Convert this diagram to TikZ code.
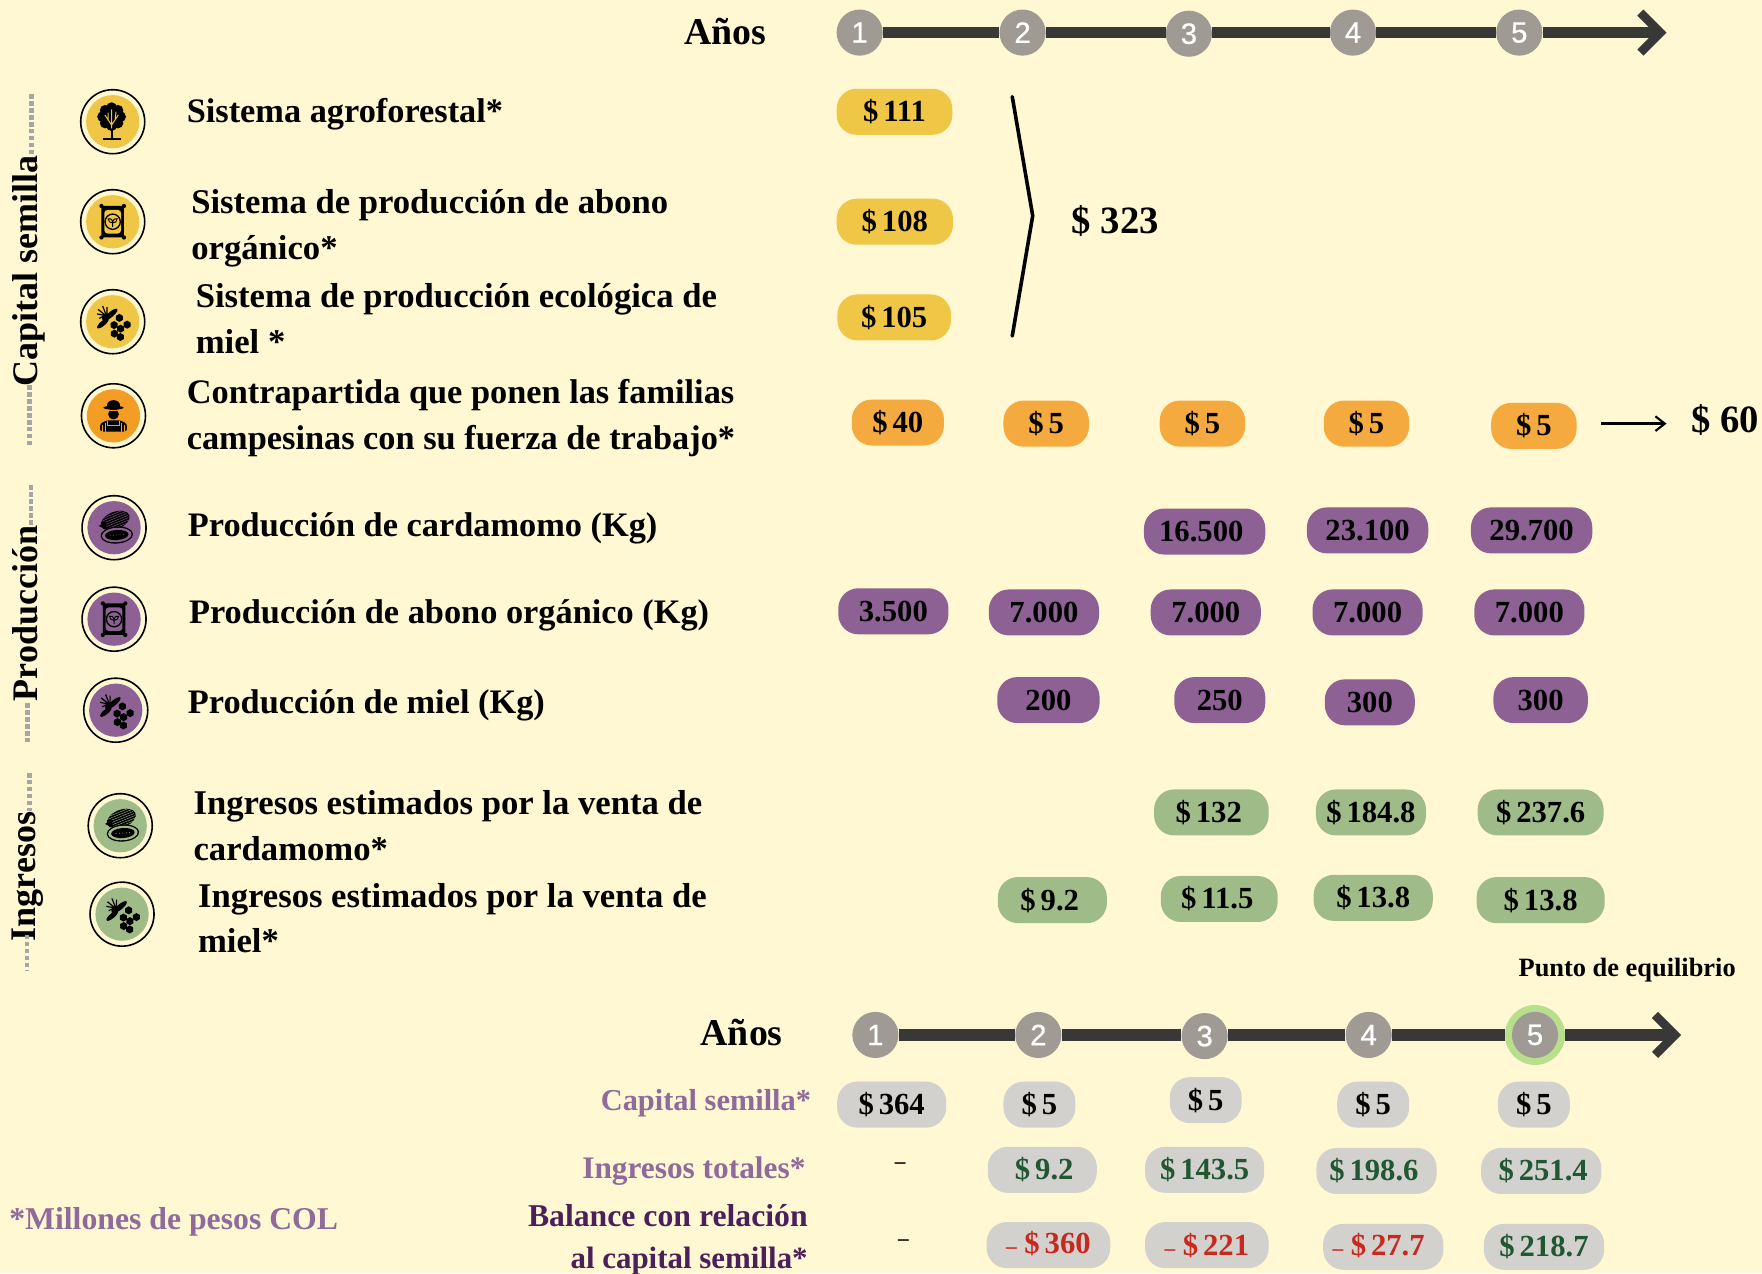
\documentclass[tikz,border=0pt]{standalone}
\usepackage{fontspec}
\setmainfont{Liberation Serif}
\setsansfont{Liberation Sans}
\newfontfamily\digfont[FakeBold=0.7]{Liberation Sans}
\usetikzlibrary{arrows.meta}
\definecolor{bgc}{HTML}{FFF8D3}
\definecolor{yel}{HTML}{F0C647}
\definecolor{ora}{HTML}{F49D25}
\definecolor{orp}{HTML}{F4AA3E}
\definecolor{pur}{HTML}{8E6194}
\definecolor{gre}{HTML}{9FBB87}
\definecolor{gry}{HTML}{D3D1CD}
\definecolor{cir}{HTML}{A09A95}
\definecolor{axc}{HTML}{383838}
\definecolor{rin}{HTML}{B8DF8B}
\definecolor{gtx}{HTML}{215732}
\definecolor{rtx}{HTML}{C8281E}
\definecolor{ptx}{HTML}{8F6A9B}
\definecolor{dpt}{HTML}{4B1F5A}
\definecolor{dot}{HTML}{A8A5A6}
\def\fs#1#2{\fontsize{#1}{#2}\selectfont\bfseries}
\newcommand\D{\$\kern.16em}
\newcommand\smd{{\fontsize{16}{16}\selectfont –}}
\tikzset{
  x=0.8428pt,y=-0.8428pt,
  pillbox/.style={inner sep=0pt,minimum height=34.5pt,rounded corners=15pt,font=\fs{23}{27},text=black},
  rowtext/.style={anchor=west,align=left,inner sep=0pt,font=\fs{26}{34.4},text=black},
  rowtextb/.style={rowtext,font=\fs{25.75}{34.4}},
  secttext/.style={rotate=90,inner sep=0pt,font=\fs{27}{30},text=black},
  yeartext/.style={inner sep=0pt,font=\fs{28.4}{32},text=black},
  botlabel/.style={anchor=east,align=right,inner sep=0pt,font=\fs{22.8}{31},text=ptx},
  stepcirc/.style={circle,fill=cir,minimum size=34.6pt,inner sep=0pt,text=white,font=\digfont\fontsize{22}{24}\selectfont},
  axisline/.style={draw=axc,line width=8.6pt},
  dotline/.style={draw=dot,line width=3.7pt,dash pattern=on 3.3pt off 1.9pt},
  ringc/.style={circle,draw=black,line width=1.2pt,minimum size=48pt,inner sep=0pt},
  chevron/.style={-{Straight Barb[length=15pt,width=30pt,line width=6.5pt]}},
}
\newcommand\pill[6]{\node[pillbox,fill=#1,minimum width=#5*0.8428pt] (#2) at (#3,#4) {#6};}
\newcommand\hexc[2]{\fill[black] (#1,#2) ++(30:3.6) -- ++(150:3.6) -- ++(210:3.6) -- ++(270:3.6) -- ++(330:3.6) -- ++(30:3.6) -- cycle;}
\newcommand\BeeIcon[1]{%
  \hexc{5.9}{-3.4}\hexc{12.8}{2.6}\hexc{1.2}{3}\hexc{7}{6.2}\hexc{1.5}{10.6}\hexc{6.8}{13.6}
  \begin{scope}[shift={(-4.7,-3.9)},rotate=40]
    \fill[black] (4,0) ellipse [x radius=7.5,y radius=2.4];
    \fill[black] (-6.5,1.5) ellipse [x radius=6.5,y radius=2.2];
    \fill[black] (-1,-1) ellipse [x radius=4,y radius=2.6];
  \end{scope}
  \draw[black,line width=0.9pt] (-13,-11) -- (-3,-3) (-9,-14) -- (-5,-4) (-14,-7) -- (-4,-5) (-5,-13) -- (-5,-5) (-12,-3) -- (-6,-6);
}
\newcommand\BagIcon[1]{%
  \fill[black,rounded corners=2pt] (-10,-14) rectangle (10,14);
  \fill[black] (-10,-14) circle[radius=1.9] (10,-14) circle[radius=1.9] (-10,14) circle[radius=1.9] (10,14) circle[radius=1.9];
  \fill[#1,rounded corners=2.5pt] (-7.5,-10.5) rectangle (7.5,10.5);
  \draw[black,line width=1pt,fill=#1] (0,0) circle[radius=6.8];
  \draw[black,line width=0.7pt] (0,4.5) -- (0,0) .. controls (-1,-3) and (-3,-3) .. (-4,-2.5) .. controls (-4,0) and (-2,1) .. (0,1) .. controls (2,1) and (4,0) .. (4,-2.5) .. controls (3,-3) and (1,-3) .. (0,0);
}
\newcommand\CacaoIcon[1]{%
  \begin{scope}[shift={(1,-6.3)},rotate=22]
    \fill[black] (0,0) ellipse [x radius=13.5,y radius=7.8];
    \foreach \k in {-6,-4,...,6}{\draw[#1,line width=0.3pt] (-12,\k) -- (12,\k);}
  \end{scope}
  \fill[black] (-13.5,-1.5) -- (-8,-6) -- (-6,2) -- cycle;
  \begin{scope}[shift={(2.4,6.5)},rotate=4]
    \fill[black] (0,0) ellipse [x radius=14.5,y radius=7.6];
    \fill[#1] (0,0) ellipse [x radius=13.2,y radius=6.4];
    \fill[black] (0,0) ellipse [x radius=10.5,y radius=4.5];
    \foreach \k in {-6,-3,...,6}{\fill[#1] (\k,0) circle[radius=0.45];}
  \end{scope}
}
\newcommand\TreeIcon[1]{%
  \fill[black] (-1,-4.5) circle[radius=9.5];
  \foreach \a in {0,45,...,315}{\fill[black] (-1,-4.5) ++(\a:8) circle[radius=4.8];}
  \draw[black,line width=1.6pt] (-1,-2) -- (-1,15);
  \draw[black,line width=1.2pt] (-8.5,15.6) -- (7,15.6);
  \draw[#1,line width=0.7pt] (-1,6) -- (-1,-3) (-1,3) -- (-7,-6) (-1,3) -- (5,-6) (-4,-1) -- (-4,-8) (2,-1) -- (3,-9) (-1,-3) -- (-1,-11);
}
\newcommand\FarmerIcon[1]{%
  \fill[black] (0,-9.3) ellipse [x radius=5.8,y radius=4.6];
  \fill[black] (0,-7.2) ellipse [x radius=9,y radius=1.7];
  \fill[black] (0,-1.5) ellipse [x radius=4.8,y radius=4.8];
  \fill[#1] (-5,-5) rectangle (5,-4.2);
  \fill[black,rounded corners=2pt] (-12,14) -- (-12,7) -- (-6,4) -- (6,4) -- (12,7) -- (12,14) -- cycle;
  \draw[#1,line width=0.7pt] (-7,14) -- (-7,6) (-9.5,14) -- (-9.5,8) (7,14) -- (7,6) (9.5,14) -- (9.5,8);
  \draw[#1,line width=0.7pt] (-5,4.5) -- (-5,9) -- (5,9) -- (5,4.5);
}
\newcommand\icon[6]{%
  \node[ringc] (#1) at (#2,#3) {};
  \fill[#4] (#1.center) circle[radius=23.7];
  \begin{scope}[shift={(#2,#3)}]#5{#6}\end{scope}
}
\begin{document}
\begin{tikzpicture}
\fill[bgc] (0,0) rectangle (1568,1133);
\useasboundingbox (0,0) rectangle (1568,1133);

% top axis
\node[yeartext] (yearsA) at (645.5,28) {Años};
\node[stepcirc] (a1) at (765,29) {1};
\node[stepcirc] (a2) at (910,29) {2};
\node[stepcirc] (a3) at (1058,30) {3};
\node[stepcirc] (a4) at (1204,29) {4};
\node[stepcirc] (a5) at (1352,29) {5};
\coordinate (a6) at (1483,29);
\draw[axisline] (a1) -- (a2);
\draw[axisline] (a2.east) -- (a3.west |- a2.east);
\draw[axisline] (a3.east |- a4.west) -- (a4.west);
\draw[axisline] (a4) -- (a5);
\draw[axisline,chevron] (a5) -- (a6);

% section labels
\node[secttext] (secA) at (26,241) {Capital semilla};
\coordinate (secA1) at (28,84); \coordinate (secA2) at (28,137);
\coordinate (secA3) at (26,343); \coordinate (secA4) at (26,396);
\draw[dotline] (secA1) -- (secA2);
\draw[dotline] (secA3) -- (secA4);
\node[secttext] (secB) at (22.5,546) {Producción};
\coordinate (secB1) at (27.6,432); \coordinate (secB2) at (27.6,469);
\coordinate (secB3) at (24.3,626); \coordinate (secB4) at (24.3,660);
\draw[dotline] (secB1) -- (secB2);
\draw[dotline] (secB3) -- (secB4);
\node[secttext] (secC) at (25,780) {Ingresos};
\coordinate (secC1) at (26,688); \coordinate (secC2) at (26,722);
\coordinate (secC3) at (24,832); \coordinate (secC4) at (24,863);
\draw[dotline] (secC1) -- (secC2);
\draw[dotline] (secC3) -- (secC4);

% icons
\icon{iTree}{100.3}{108.3}{yel}{\TreeIcon}{yel}
\icon{iBag}{100.3}{197.3}{yel}{\BagIcon}{yel}
\icon{iBee}{100.3}{286.3}{yel}{\BeeIcon}{yel}
\icon{iFarm}{101}{370}{ora}{\FarmerIcon}{ora}
\icon{iCac}{101.5}{469.6}{pur}{\CacaoIcon}{pur}
\icon{iBagP}{101.5}{551}{pur}{\BagIcon}{pur}
\icon{iBeeP}{103}{632}{pur}{\BeeIcon}{pur}
\icon{iCacG}{107}{734.8}{gre}{\CacaoIcon}{gre}
\icon{iBeeG}{108.6}{813.5}{gre}{\BeeIcon}{gre}

% row labels
\node[rowtextb] (t1) at (166,102) {Sistema agroforestal*};
\node[rowtext] (t2) at (170,203.5) {Sistema de producción de abono\\orgánico*};
\node[rowtext] (t3) at (174,283.5) {Sistema de producción ecológica de\\miel *};
\node[rowtextb] (t4) at (166,372) {Contrapartida que ponen las familias\\campesinas con su fuerza de trabajo*};
\node[rowtextb] (t5) at (167,470.5) {Producción de cardamomo (Kg)};
\node[rowtextb] (t6) at (168,548) {Producción de abono orgánico (Kg)};
\node[rowtextb] (t7) at (167,627.5) {Producción de miel (Kg)};
\node[rowtext] (t8) at (172,735) {Ingresos estimados por la venta de\\cardamomo*};
\node[rowtext] (t9) at (176,817) {Ingresos estimados por la venta de\\miel*};

% capital pills
\pill{yel}{y1}{796}{99.5}{103}{\D 111}
\pill{yel}{y2}{796.3}{197.3}{103.5}{\D 108}
\pill{yel}{y3}{795.7}{282.5}{101}{\D 105}
\coordinate (b1) at (900.8,86);
\coordinate (b2) at (919,192);
\coordinate (b3) at (900.8,299);
\draw[black,line width=2.7pt,line cap=round] (b1) -- (b2) -- (b3);
\node[inner sep=0pt,font=\fs{29}{32},text=black] (sum1) at (992.5,197) {\$ 323};

\pill{orp}{o1}{799}{376}{82}{\raisebox{1.5pt}{\D 40}}
\pill{orp}{o2}{931}{377}{76}{\D 5}
\pill{orp}{o3}{1070}{377}{76}{\D 5}
\pill{orp}{o4}{1216}{377}{76}{\D 5}
\pill{orp}{o5}{1365}{379}{76}{\D 5}
\coordinate (c1) at (1425,377);
\coordinate (c2) at (1483,377);
\draw[black,line width=1.8pt,-{Straight Barb[length=7pt,width=11pt,line width=1.6pt]}] (c1) -- (c2);
\node[inner sep=0pt,font=\fs{29}{32},text=black] (sum2) at (1535,374) {\$ 60};

% production
\pill{pur}{p1}{1072}{473}{108}{\kern-5pt 16.500}
\pill{pur}{p2}{1217}{472}{108}{23.100}
\pill{pur}{p3}{1363}{472}{108}{29.700}
\pill{pur}{p4}{795}{544}{98}{3.500}
\pill{pur}{p5}{929}{545}{98}{7.000}
\pill{pur}{p6}{1073}{545}{98}{7.000}
\pill{pur}{p7}{1217}{545}{98}{7.000}
\pill{pur}{p8}{1361}{545}{98}{7.000}
\pill{pur}{p9}{933}{623}{91}{200}
\pill{pur}{p10}{1085.5}{623}{81}{250}
\pill{pur}{p11}{1219}{625}{80}{300}
\pill{pur}{p12}{1371}{623}{84}{300}

% income
\pill{gre}{g1}{1078}{723}{102}{\kern-4pt\D 132}
\pill{gre}{g2}{1220}{723}{98}{\D 184.8}
\pill{gre}{g3}{1371}{723}{112}{\D 237.6}
\pill{gre}{g4}{936.5}{801}{97}{\kern-4pt\D 9.2}
\pill{gre}{g5}{1085}{800}{104}{\kern-3pt\D 11.5}
\pill{gre}{g6}{1222}{799}{106}{\D 13.8}
\pill{gre}{g7}{1371}{801}{114}{\D 13.8}

% lower axis
\node[inner sep=0pt,font=\fs{19.8}{23},text=black] (eq) at (1448,863) {Punto de equilibrio};
\node[yeartext] (yearsB) at (660,919) {Años};
\node[circle,fill=rin,minimum size=45pt,inner sep=0pt] (ringFive) at (1366,921) {};
\node[stepcirc] (d1) at (779,921) {1};
\node[stepcirc] (d2) at (924,921) {2};
\node[stepcirc] (d3) at (1072,922) {3};
\node[stepcirc] (d4) at (1218,921) {4};
\node[stepcirc] (d5) at (1366,921) {5};
\coordinate (d6) at (1496,921);
\draw[axisline] (d1) -- (d2);
\draw[axisline] (d2.east) -- (d3.west |- d2.east);
\draw[axisline] (d3.east |- d4.west) -- (d4.west);
\draw[axisline] (d4) -- (ringFive);
\draw[axisline,chevron] (ringFive) -- (d6);

% lower rows
\node[botlabel] (l1) at (722,982) {Capital semilla*};
\node[botlabel,font=\fs{23.5}{31}] (l2) at (717,1042) {Ingresos totales*};
\node[botlabel,text=dpt,font=\fs{23.2}{31.2}] (l3) at (719,1103) {{\fontsize{23.8}{31.2}\selectfont Balance con relación}\\al capital semilla*};
\node[anchor=west,inner sep=0pt,font=\fs{23.8}{27},text=ptx] (l4) at (8,1087) {*Millones de pesos COL};

\pill{gry}{s1}{793.5}{983}{97}{\raisebox{2.5pt}{\D 364}}
\pill{gry}{s2}{925}{983}{64}{\raisebox{2.5pt}{\D 5}}
\pill{gry}{s3}{1073}{979}{64}{\D 5}
\pill{gry}{s4}{1222}{983}{64}{\raisebox{2.5pt}{\D 5}}
\pill{gry}{s5}{1365}{983}{64}{\raisebox{2.5pt}{\D 5}}
\node[inner sep=0pt,font=\fs{16}{18},text=black] (u1) at (801,1037) {–};
\pill{gry}{u2}{927.5}{1041}{97}{\textcolor{gtx}{\kern3pt\D 9.2}}
\pill{gry}{u3}{1072}{1041}{106}{\textcolor{gtx}{\D 143.5}}
\pill{gry}{u4}{1225}{1042}{107}{\textcolor{gtx}{\kern-4pt\D 198.6}}
\pill{gry}{u5}{1371.5}{1042}{107}{\textcolor{gtx}{\kern3pt\D 251.4}}
\node[inner sep=0pt,font=\fs{16}{18},text=black] (v1) at (804,1106) {–};
\pill{gry}{v2}{933}{1108}{110}{\textcolor{rtx}{\raisebox{4pt}{\smd\ \D 360}}}
\pill{gry}{v3}{1074}{1108}{110}{\textcolor{rtx}{\raisebox{1.5pt}{\smd\ \D 221}}}
\pill{gry}{v4}{1231}{1109.5}{107}{\textcolor{rtx}{\kern-7pt\raisebox{4pt}{\smd\ \D 27.7}}}
\pill{gry}{v5}{1374}{1109.5}{107}{\textcolor{gtx}{\D 218.7}}
\end{tikzpicture}
\end{document}
